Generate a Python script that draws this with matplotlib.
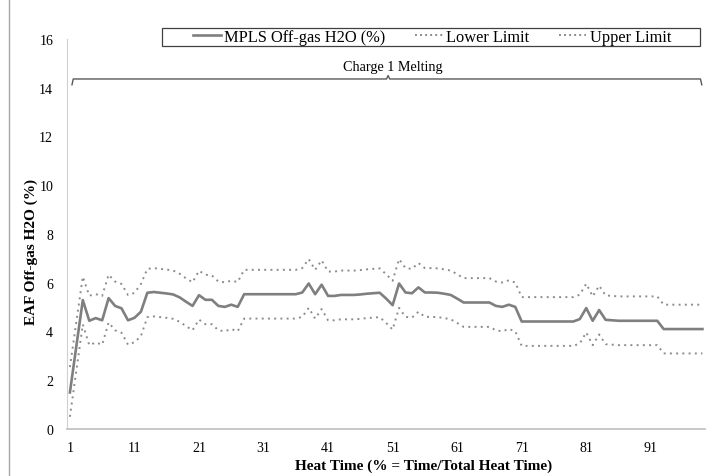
#!/usr/bin/env python3
"""
EAF off-gas H2O profile with lower / upper control limits.
"""
import matplotlib
matplotlib.use("Agg")
import matplotlib.pyplot as plt
from matplotlib.lines import Line2D
from matplotlib.patches import Rectangle
import numpy as np

# Data (heat time 1..99 %)
HEAT_TIME = list(range(1, 100))

MPLS_H2O = [
    1.50, 3.40, 5.29, 4.44, 4.55, 4.46, 5.37, 5.05, 4.95, 4.46,
    4.56, 4.81, 5.59, 5.62, 5.59, 5.56, 5.52, 5.40, 5.22, 5.05,
    5.49, 5.30, 5.30, 5.05, 5.01, 5.10, 5.01, 5.53, 5.53, 5.53,
    5.53, 5.53, 5.53, 5.53, 5.53, 5.53, 5.60, 5.97, 5.53, 5.92,
    5.46, 5.46, 5.50, 5.50, 5.50, 5.52, 5.55, 5.57, 5.59, 5.35,
    5.08, 5.97, 5.60, 5.57, 5.81, 5.60, 5.60, 5.59, 5.55, 5.50,
    5.35, 5.19, 5.19, 5.19, 5.19, 5.19, 5.05, 5.01, 5.10, 5.01,
    4.41, 4.41, 4.41, 4.41, 4.41, 4.41, 4.41, 4.41, 4.41, 4.51,
    4.96, 4.44, 4.88, 4.48, 4.46, 4.44, 4.44, 4.44, 4.44, 4.44,
    4.44, 4.44, 4.10, 4.10, 4.10, 4.10, 4.10, 4.10, 4.10,
]

LOWER_LIMIT = [
    0.50, 2.40, 4.29, 3.44, 3.55, 3.46, 4.37, 4.05, 3.95, 3.46,
    3.56, 3.81, 4.59, 4.62, 4.59, 4.56, 4.52, 4.40, 4.22, 4.05,
    4.49, 4.30, 4.30, 4.05, 4.01, 4.10, 4.01, 4.53, 4.53, 4.53,
    4.53, 4.53, 4.53, 4.53, 4.53, 4.53, 4.60, 4.97, 4.53, 4.92,
    4.46, 4.46, 4.50, 4.50, 4.50, 4.52, 4.55, 4.57, 4.59, 4.35,
    4.08, 4.97, 4.60, 4.57, 4.81, 4.60, 4.60, 4.59, 4.55, 4.50,
    4.35, 4.19, 4.19, 4.19, 4.19, 4.19, 4.05, 4.01, 4.10, 4.01,
    3.41, 3.41, 3.41, 3.41, 3.41, 3.41, 3.41, 3.41, 3.41, 3.51,
    3.96, 3.44, 3.88, 3.48, 3.46, 3.44, 3.44, 3.44, 3.44, 3.44,
    3.44, 3.44, 3.10, 3.10, 3.10, 3.10, 3.10, 3.10, 3.10,
]

UPPER_LIMIT = [
    2.54, 4.40, 6.25, 5.47, 5.53, 5.46, 6.33, 6.05, 5.95, 5.50,
    5.58, 5.95, 6.57, 6.60, 6.57, 6.54, 6.50, 6.37, 6.18, 6.02,
    6.49, 6.33, 6.30, 6.05, 6.02, 6.08, 6.03, 6.53, 6.53, 6.53,
    6.53, 6.53, 6.53, 6.53, 6.53, 6.53, 6.60, 6.97, 6.53, 6.92,
    6.46, 6.46, 6.50, 6.50, 6.50, 6.52, 6.55, 6.57, 6.59, 6.35,
    6.08, 6.97, 6.60, 6.57, 6.81, 6.60, 6.60, 6.59, 6.55, 6.50,
    6.35, 6.19, 6.19, 6.19, 6.19, 6.19, 6.05, 6.01, 6.10, 6.01,
    5.41, 5.41, 5.41, 5.41, 5.41, 5.41, 5.41, 5.41, 5.41, 5.51,
    5.96, 5.44, 5.88, 5.48, 5.46, 5.44, 5.44, 5.44, 5.44, 5.44,
    5.44, 5.44, 5.10, 5.10, 5.10, 5.10, 5.10, 5.10, 5.10,
]

X_TICKS = [1, 11, 21, 31, 41, 51, 61, 71, 81, 91]
Y_TICKS = [0, 2, 4, 6, 8, 10, 12, 14, 16]

SERIES_NAMES = ["MPLS Off-gas H2O (%)", "Lower Limit", "Upper Limit"]
PHASE_LABEL = "Charge 1 Melting"

# Styling
W, H = 706, 477
MEAN_COLOR = '#7f7f7f'
LIMIT_COLOR = '#8c8c8c'
AXIS_COLOR = '#bfbfbf'
FONT = 'Liberation Serif'
DOTS = (0, (1, 2.2))

plt.rcParams['font.family'] = FONT


def px(x, y):
    """Pixel position (top-left origin) -> figure fraction."""
    return x / W, 1 - y / H


fig = plt.figure(figsize=(W / 100, H / 100), dpi=100)
ax = fig.add_axes([67 / W, 47 / H, (705 - 67) / W, 390 / H])

ax.plot(HEAT_TIME, MPLS_H2O, color=MEAN_COLOR, lw=1.9, solid_joinstyle='round')
ax.plot(HEAT_TIME, LOWER_LIMIT, color=LIMIT_COLOR, lw=1.4, linestyle=DOTS)
ax.plot(HEAT_TIME, UPPER_LIMIT, color=LIMIT_COLOR, lw=1.4, linestyle=DOTS)

ax.set_xlim(0.55, 99.4)
ax.set_ylim(0, 16)
ax.set_xticks(X_TICKS)
ax.set_yticks(Y_TICKS)
ax.tick_params(length=0, labelsize=10, colors='black')
ax.tick_params(axis='x', pad=9)
ax.tick_params(axis='y', pad=10)

for side in ('top', 'right'):
    ax.spines[side].set_visible(False)
ax.spines['left'].set_color('#d0d0d0')
ax.spines['bottom'].set_color(AXIS_COLOR)
ax.spines['bottom'].set_linewidth(1.2)

# Brace over the melting phase
bx0, bx1, bxc = 1.32, 98.9, 50.3
y_line, y_end, y_tip = 14.36, 14.12, 14.50
ax.plot([bx0, bx0 + 0.2, bxc - 0.25, bxc, bxc + 0.25, bx1 - 0.2, bx1],
        [y_end, y_line, y_line, y_tip, y_line, y_line, y_end],
        color='#595959', lw=1.0, clip_on=False)
ax.text(51.1, 14.86, PHASE_LABEL, ha='center', va='center', fontsize=10.2)

# Axis titles
fig.text(*px(424, 466), "Heat Time (% = Time/Total Heat Time)",
         ha='center', va='center', fontsize=11, fontweight='bold')
fig.text(*px(31, 252), "EAF Off-gas H2O (%)", rotation=90,
         ha='center', va='center', fontsize=11, fontweight='bold')

# Legend with a squared frame
handles = [
    Line2D([], [], color=MEAN_COLOR, lw=1.9),
    Line2D([], [], color=LIMIT_COLOR, lw=1.4, linestyle=(0, (1, 1.6))),
    Line2D([], [], color=LIMIT_COLOR, lw=1.4, linestyle=(0, (1, 1.6))),
]
fig.legend(handles, SERIES_NAMES, ncol=3, frameon=False, loc='center',
           bbox_to_anchor=px(432, 38), fontsize=11.8, handlelength=1.7,
           handletextpad=0.2, columnspacing=1.8, borderpad=0)
fig.add_artist(Rectangle(px(162, 47), 538 / W, 18 / H, transform=fig.transFigure,
                         fill=False, edgecolor='#404040', lw=0.9))

# left border line of the original picture
fig.add_artist(Line2D([9 / W, 9 / W], [0, 1], transform=fig.transFigure,
                      color='#a6a6a6', lw=1.0))

fig.savefig('out.png', dpi=100, facecolor='white')
